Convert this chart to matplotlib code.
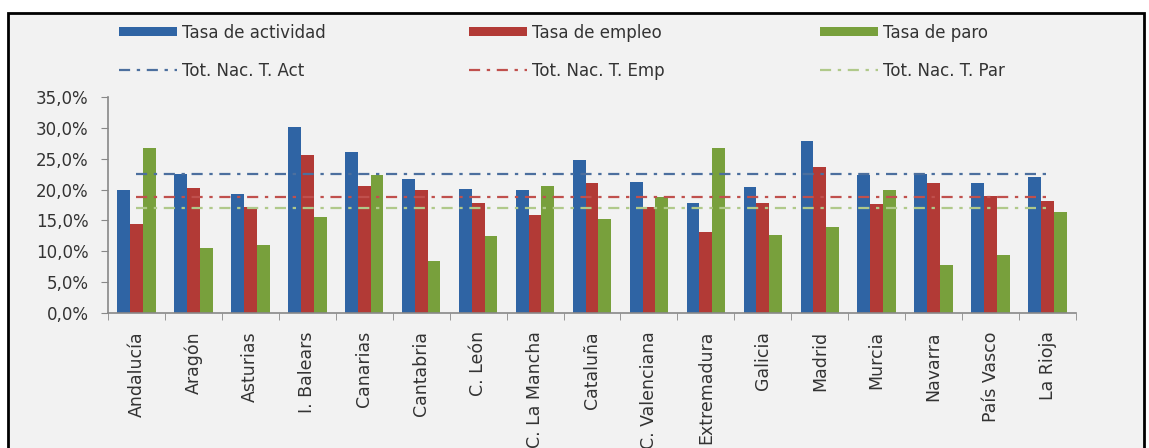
import matplotlib
matplotlib.use("Agg")
import matplotlib.pyplot as plt
import numpy as np
from matplotlib.patches import Rectangle
from matplotlib.ticker import FuncFormatter, FixedLocator

regions = ["Andalucía", "Aragón", "Asturias", "I. Balears", "Canarias", "Cantabria",
           "C. León", "C. La Mancha", "Cataluña", "C. Valenciana", "Extremadura",
           "Galicia", "Madrid", "Murcia", "Navarra", "País Vasco", "La Rioja"]
tasa_actividad = [19.9, 22.6, 19.3, 30.2, 26.1, 21.7, 20.1, 19.9, 24.8, 21.3, 17.9,
                  20.4, 27.8, 22.3, 22.6, 21.0, 22.1]
tasa_empleo = [14.4, 20.2, 17.1, 25.6, 20.5, 19.9, 17.8, 15.9, 21.0, 17.1, 13.1,
               17.9, 23.6, 17.7, 21.0, 19.0, 18.2]
tasa_paro = [26.8, 10.5, 11.0, 15.6, 22.4, 8.4, 12.4, 20.5, 15.3, 18.8, 26.8,
             12.6, 14.0, 19.9, 7.8, 9.4, 16.3]
tot_nac_act = 22.5
tot_nac_emp = 18.8
tot_nac_par = 17.0

series_labels = ["Tasa de actividad", "Tasa de empleo", "Tasa de paro"]
line_labels = ["Tot. Nac. T. Act", "Tot. Nac. T. Emp", "Tot. Nac. T. Par"]

c_blue = "#2f64a4"
c_red = "#b23a36"
c_green = "#78a03c"
l_blue = "#4c6f9e"
l_red = "#c0504d"
l_green = "#b0c98a"

W, H = 1149, 448
fig = plt.figure(figsize=(W / 100, H / 100), dpi=100, facecolor="white")
fig.patches.append(Rectangle((8 / W, -0.02), (1144 - 8) / W, (H - 13) / H + 0.02,
                             transform=fig.transFigure, facecolor="#f2f2f2",
                             edgecolor="black", linewidth=2, zorder=-10))

ax_left, ax_right = 108 / W, 1076 / W
ax_bottom, ax_top = (H - 313) / H, (H - 97) / H
ax = fig.add_axes([ax_left, ax_bottom, ax_right - ax_left, ax_top - ax_bottom])
ax.set_facecolor("none")

x = np.arange(len(regions))
bw = 0.225
b1 = ax.bar(x - bw, tasa_actividad, bw, color=c_blue, zorder=2)
b2 = ax.bar(x, tasa_empleo, bw, color=c_red, zorder=2)
b3 = ax.bar(x + bw, tasa_paro, bw, color=c_green, zorder=2)

ls = (0, (5, 3, 1.5, 3))
l1, = ax.plot(x, [tot_nac_act] * len(x), color=l_blue, lw=1.6, ls=ls, zorder=3)
l2, = ax.plot(x, [tot_nac_emp] * len(x), color=l_red, lw=1.6, ls=ls, zorder=3)
l3, = ax.plot(x, [tot_nac_par] * len(x), color=l_green, lw=1.6, ls=ls, zorder=3)

ax.set_xlim(-0.5, len(regions) - 0.5)
ax.set_ylim(0, 35)
ax.set_yticks(np.arange(0, 35.1, 5))
ax.yaxis.set_major_formatter(FuncFormatter(lambda v, p: f"{v:.1f}%".replace(".", ",")))
ax.set_xticks(x)
ax.set_xticklabels(regions, rotation=90, fontsize=12.5, color="#333333")
ax.xaxis.set_minor_locator(FixedLocator(np.arange(-0.5, len(regions), 1)))
ax.tick_params(axis="x", which="major", length=0, pad=13)
ax.tick_params(axis="x", which="minor", length=5, color="#888888", direction="out")
ax.tick_params(axis="y", length=5, color="#888888", labelsize=12, labelcolor="#333333", pad=9)
for s in ["top", "right"]:
    ax.spines[s].set_visible(False)
for s in ["left", "bottom"]:
    ax.spines[s].set_color("#888888")
    ax.spines[s].set_linewidth(1.2)

pairs = [(b1, l1, 0), (b2, l2, 1), (b3, l3, 2)]
xs = [107, 457, 808]
for (b, l, i), xp in zip(pairs, xs):
    fig.legend([b, l], [series_labels[i], line_labels[i]], loc="upper left",
               bbox_to_anchor=(xp / W, (H - 12) / H), frameon=False,
               fontsize=12, handlelength=3.5, handleheight=0.45, handletextpad=0.3,
               labelspacing=1.2, borderpad=0.2, labelcolor="#333333")

fig.savefig("out.png", dpi=100, facecolor="white")
